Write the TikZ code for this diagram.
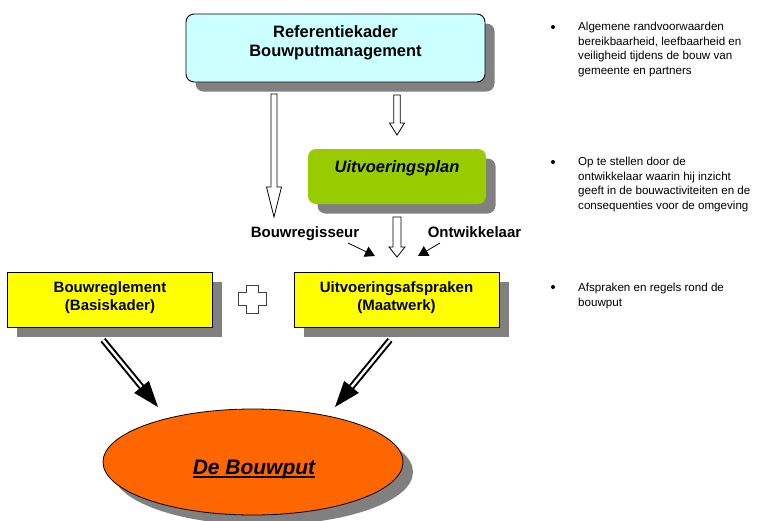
\documentclass[tikz,border=0pt]{standalone}
\usepackage{fontspec}
\setmainfont{Liberation Sans}
\usetikzlibrary{calc,shapes.geometric,shadows,arrows.meta}
\definecolor{refcyan}{HTML}{CCFFFF}
\definecolor{plangreen}{HTML}{99CC00}
\definecolor{boxyellow}{HTML}{FFFF00}
\definecolor{putorange}{HTML}{FF6600}
\definecolor{shadowgray}{HTML}{808080}
\newcommand\fntRef{\fontsize{16.5}{19}\selectfont\bfseries}
\newcommand\fntPlan{\fontsize{16.5}{19}\selectfont\bfseries\itshape}
\newcommand\fntBox{\fontsize{15}{17.5}\selectfont\bfseries}
\newcommand\fntLbl{\fontsize{15}{17.5}\selectfont\bfseries}
\newcommand\fntBul{\fontsize{11.6}{14.5}\selectfont}
\newcommand\fntPut{\fontsize{21}{24}\selectfont\bfseries\itshape}
\newcommand\hollowdown[5]{\draw[hollow] let \p1=(#1),\p2=(#2) in
  (\x1-#3,\y1) -- (\x1+#3,\y1) -- (\x1+#3,\y2+#5) -- (\x1+#4,\y2+#5) -- (\x2,\y2)
  -- (\x1-#4,\y2+#5) -- (\x1-#3,\y2+#5) -- cycle;}
\newcommand\dblarrow[2]{%
  \draw[dbl] (#1) -- ($(#2)!23pt!(#1)$);
  \path ($(#2)!26pt!(#1)$) coordinate (hb#1);
  \fill (#2) -- ($(hb#1)!9.5pt!90:(#2)$) -- ($(hb#1)!9.5pt!-90:(#2)$) -- cycle;}
\begin{document}
\begin{tikzpicture}[x=1pt,y=-1pt,
  shadowed/.style={drop shadow={shadow xshift=9.5pt,shadow yshift=-9.5pt,fill=shadowgray,opacity=1}},
  refbox/.style={shadowed, draw=black, line width=0.9pt, fill=refcyan, rounded corners=8pt,
    minimum width=299pt, minimum height=68pt, inner sep=0pt},
  planbox/.style={shadowed, fill=plangreen, rounded corners=8pt,
    minimum width=178pt, minimum height=55pt, inner sep=0pt},
  yellowbox/.style={shadowed, draw=black, line width=0.9pt, fill=boxyellow,
    minimum width=205pt, minimum height=55pt, inner sep=0pt},
  putshape/.style={ellipse, draw=black, line width=0.8pt, fill=putorange,
    drop shadow={shadow xshift=10pt,shadow yshift=-10pt,fill=shadowgray,opacity=1},
    minimum width=300pt, minimum height=106pt, inner sep=0pt},
  hollow/.style={draw=black, fill=white, line width=0.8pt, line join=miter},
  dbl/.style={draw=black, double=white, double distance=2.4pt, line width=2pt},
  smallarr/.style={draw=black, line width=0.8pt, -{Triangle[length=10pt,width=11pt]}},
  plusstyle/.style={draw=black!75, fill=white, line width=1pt},
  bul/.style={circle, fill=black, inner sep=0pt, minimum size=4pt},
  bultext/.style={font=\fntBul, align=left, anchor=north west, inner sep=0pt}
]
\useasboundingbox (0,0) rectangle (759,520);
\fill[white] (0,0) rectangle (759,520);

% boxes
\node[refbox] (ref) at (335.5,48) {};
\node[font=\fntRef, align=center] (reftxt) at (335.5,43) {Referentiekader\\Bouwputmanagement};
\node[planbox] (plan) at (397,176.5) {};
\node[font=\fntPlan] (plantxt) at (397,168.5) {Uitvoeringsplan};
\node[yellowbox] (regl) at (110,299.5) {};
\node[font=\fntBox, align=center] (regltxt) at (110,297.5) {Bouwreglement\\(Basiskader)};
\node[yellowbox] (afspr) at (396.5,299.5) {};
\node[font=\fntBox, align=center] (afsprtxt) at (396.5,297.5) {Uitvoeringsafspraken\\(Maatwerk)};
\node[putshape] (put) at (253,462) {};
\node[font=\fntPut, inner sep=0pt, anchor=base] (puttxt) at (254,474) {De Bouwput};
\draw[line width=1.8pt] ([yshift=-3pt]puttxt.base west) -- ([yshift=-3pt]puttxt.base east);

% labels
\node[font=\fntLbl] (regis) at (305,233.5) {Bouwregisseur};
\node[font=\fntLbl] (ontw) at (474.5,232) {Ontwikkelaar};

% hollow arrows
\coordinate (a1s) at (274,94);  \coordinate (a1e) at (274,217);
\coordinate (a2s) at (397,95);  \coordinate (a2e) at (397,135);
\coordinate (a3s) at (397,217); \coordinate (a3e) at (397,257);
\hollowdown{a1s}{a1e}{3pt}{7.5pt}{30pt}
\hollowdown{a2s}{a2e}{3.3pt}{7.5pt}{12pt}
\hollowdown{a3s}{a3e}{4pt}{8pt}{10pt}

% small black arrows
\coordinate (s1s) at (348,243); \coordinate (s1e) at (375,256);
\coordinate (s2s) at (440,243); \coordinate (s2e) at (418,256);
\draw[smallarr] (s1s) -- (s1e);
\draw[smallarr] (s2s) -- (s2e);

% double arrows
\coordinate (d1s) at (103,340); \coordinate (d1e) at (158,407);
\coordinate (d2s) at (390,340); \coordinate (d2e) at (335,407);
\dblarrow{d1s}{d1e}
\dblarrow{d2s}{d2e}

% plus sign
\coordinate (plusc) at (252.5,299.2);
\begin{scope}[shift={(plusc)}]
\draw[plusstyle] (-6.3,-14.2) -- (6.3,-14.2) -- (6.3,-6.3) -- (14.2,-6.3) -- (14.2,6.3)
  -- (6.3,6.3) -- (6.3,14.2) -- (-6.3,14.2) -- (-6.3,6.3) -- (-14.2,6.3) -- (-14.2,-6.3)
  -- (-6.3,-6.3) -- cycle;
\end{scope}

% bullet texts
\node[bul] (b1) at (553,27) {};
\node[bultext] (t1) at (578,22) {Algemene randvoorwaarden\\bereikbaarheid, leefbaarheid en\\veiligheid tijdens de bouw van\\gemeente en partners};
\node[bul] (b2) at (553,162) {};
\node[bultext] (t2) at (578,157) {Op te stellen door de\\ontwikkelaar waarin hij inzicht\\geeft in de bouwactiviteiten en de\\consequenties voor de omgeving};
\node[bul] (b3) at (553,287) {};
\node[bultext] (t3) at (578,283) {Afspraken en regels rond de\\bouwput};
\end{tikzpicture}
\end{document}
